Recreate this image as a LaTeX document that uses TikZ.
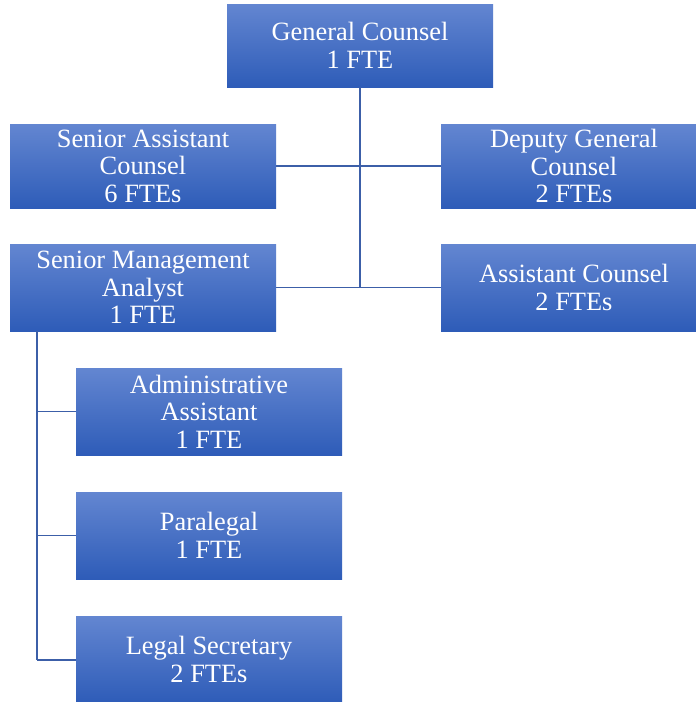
\documentclass[tikz,border=0pt]{standalone}
\usepackage{fontspec}
\setmainfont{Liberation Serif}
\definecolor{boxtop}{RGB}{99,134,209}
\definecolor{boxbot}{RGB}{46,92,184}
\definecolor{linecol}{RGB}{60,95,168}
\begin{document}
\begin{tikzpicture}[x=1pt,y=-1pt,
  box/.style={rectangle, minimum width=266pt, minimum height=85pt, inner sep=0pt,
    top color=boxtop, bottom color=boxbot, text=white, align=center,
    font=\fontsize{26.4}{27.5}\selectfont},
  hlink/.style={draw=linecol, line width=1.4pt},
  vlink/.style={draw=linecol, line width=2.2pt}]
\fill[white] (0,0) rectangle (696,702);
\useasboundingbox (0,0) rectangle (696,702);

\node[box, minimum height=83pt] (gc) at (360,45.5) {General Counsel\\1 FTE};
\node[box, minimum height=84pt] (sac) at (143,166) {Senior Assistant\\Counsel\\6 FTEs};
\node[box, minimum height=84pt] (dgc) at (574,166) {Deputy General\\Counsel\\2 FTEs};
\node[box, minimum height=87pt] (sma) at (143,287.5) {Senior Management\\Analyst\\1 FTE};
\node[box, minimum height=87pt] (ac) at (574,287.5) {Assistant Counsel\\2 FTEs};
\node[box, minimum height=87pt] (aa) at (209,411.5) {Administrative\\Assistant\\1 FTE};
\node[box, minimum height=87pt] (pl) at (209,535.5) {Paralegal\\1 FTE};
\node[box, minimum height=87pt] (ls) at (209,659.5) {Legal Secretary\\2 FTEs};

\coordinate (hub) at (360,288);
\coordinate (ltop) at (37,331);
\coordinate (lbot) at (37,660);

\draw[hlink] (sac.east) -- (dgc.west);
\draw[hlink] (sma.east) -- (ac.west);
\draw[vlink] (gc.south) -- (hub);

\draw[hlink] (aa.west -| ltop) -- (aa.west);
\draw[hlink] (pl.west -| ltop) -- (pl.west);
\draw[hlink] (lbot) -- (ls.west |- lbot);
\draw[vlink] (ltop) -- (lbot);
\end{tikzpicture}
\end{document}
